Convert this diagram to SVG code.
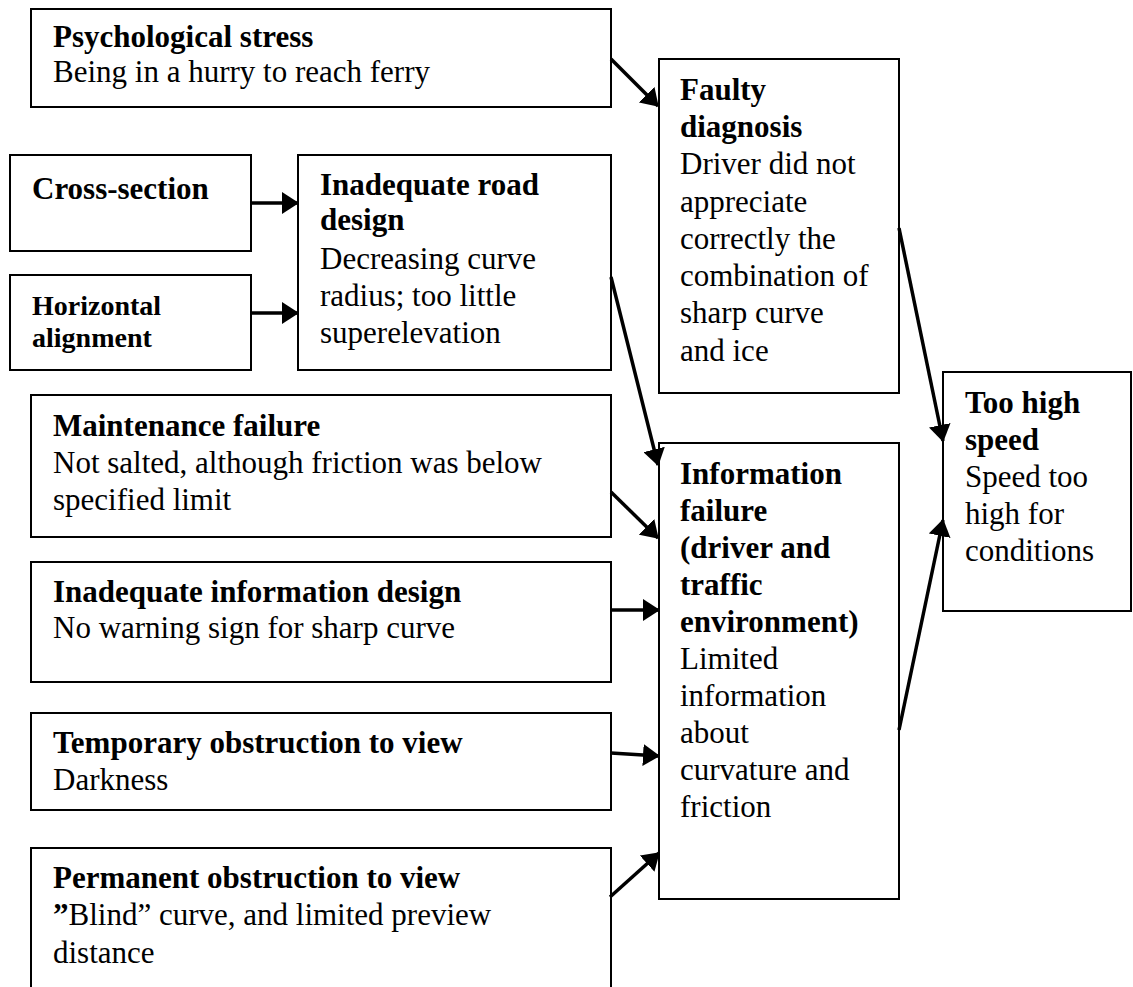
<svg xmlns="http://www.w3.org/2000/svg" width="1133" height="987" viewBox="0 0 1133 987">
  <style>
    .box { fill: #fff; stroke: #000; stroke-width: 2; }
    text { font-family: "Liberation Serif", "Times New Roman", serif; font-size: 31px; fill: #000; }
    .b { font-weight: bold; }
    .sm { font-size: 28px; }
    .arrow { stroke: #000; stroke-width: 3.5; fill: none; marker-end: url(#head); }
  </style>
  <defs>
    <marker id="head" markerUnits="userSpaceOnUse" markerWidth="17" markerHeight="22" refX="16" refY="11" orient="auto">
      <path d="M0,0 L17,11 L0,22 z" fill="#000"/>
    </marker>
  </defs>
  <rect width="1133" height="987" fill="#fff"/>

  <g id="psychological-stress">
    <rect class="box" x="31" y="9" width="580" height="98"/>
    <text x="53" y="47" class="b">Psychological stress</text>
    <text x="53" y="82">Being in a hurry to reach ferry</text>
  </g>

  <g id="cross-section">
    <rect class="box" x="10" y="155" width="241" height="96"/>
    <text x="32" y="199" class="b">Cross-section</text>
  </g>

  <g id="horizontal-alignment">
    <rect class="box" x="10" y="275" width="241" height="95"/>
    <text x="32" y="315" class="b sm">Horizontal</text>
    <text x="32" y="347" class="b sm">alignment</text>
  </g>

  <g id="road-design">
    <rect class="box" x="298" y="155" width="313" height="215"/>
    <text x="320" y="195" class="b">Inadequate road</text>
    <text x="320" y="230" class="b">design</text>
    <text x="320" y="269">Decreasing curve</text>
    <text x="320" y="306">radius; too little</text>
    <text x="320" y="343">superelevation</text>
  </g>

  <g id="maintenance-failure">
    <rect class="box" x="31" y="395" width="580" height="142"/>
    <text x="53" y="436" class="b">Maintenance failure</text>
    <text x="53" y="473">Not salted, although friction was below</text>
    <text x="53" y="510">specified limit</text>
  </g>

  <g id="information-design">
    <rect class="box" x="31" y="562" width="580" height="120"/>
    <text x="53" y="602" class="b">Inadequate information design</text>
    <text x="53" y="638">No warning sign for sharp curve</text>
  </g>

  <g id="temporary-obstruction">
    <rect class="box" x="31" y="713" width="580" height="97"/>
    <text x="53" y="753" class="b">Temporary obstruction to view</text>
    <text x="53" y="790">Darkness</text>
  </g>

  <g id="permanent-obstruction">
    <rect class="box" x="31" y="848" width="580" height="160"/>
    <text x="53" y="888" class="b">Permanent obstruction to view</text>
    <text x="53" y="925"><tspan class="b">”</tspan>Blind” curve, and limited preview</text>
    <text x="53" y="963">distance</text>
  </g>

  <g id="faulty-diagnosis">
    <rect class="box" x="659" y="59" width="240" height="334"/>
    <text x="680" y="100" class="b">Faulty</text>
    <text x="680" y="137" class="b">diagnosis</text>
    <text x="680" y="174">Driver did not</text>
    <text x="680" y="212">appreciate</text>
    <text x="680" y="249">correctly the</text>
    <text x="680" y="286">combination of</text>
    <text x="680" y="323">sharp curve</text>
    <text x="680" y="361">and ice</text>
  </g>

  <g id="information-failure">
    <rect class="box" x="659" y="443" width="240" height="456"/>
    <text x="680" y="484" class="b">Information</text>
    <text x="680" y="521" class="b">failure</text>
    <text x="680" y="558" class="b">(driver and</text>
    <text x="680" y="595" class="b">traffic</text>
    <text x="680" y="632" class="b">environment)</text>
    <text x="680" y="669">Limited</text>
    <text x="680" y="706">information</text>
    <text x="680" y="743">about</text>
    <text x="680" y="780">curvature and</text>
    <text x="680" y="817">friction</text>
  </g>

  <g id="too-high-speed">
    <rect class="box" x="943" y="372" width="188" height="239"/>
    <text x="965" y="413" class="b">Too high</text>
    <text x="965" y="450" class="b">speed</text>
    <text x="965" y="487">Speed too</text>
    <text x="965" y="524">high for</text>
    <text x="965" y="561">conditions</text>
  </g>

  <g id="connectors">
    <line class="arrow" x1="611" y1="59" x2="658" y2="106"/>
    <line class="arrow" x1="251" y1="203" x2="298" y2="203"/>
    <line class="arrow" x1="251" y1="313" x2="298" y2="313"/>
    <line class="arrow" x1="611" y1="277" x2="658" y2="465"/>
    <line class="arrow" x1="611" y1="492" x2="658" y2="538"/>
    <line class="arrow" x1="610" y1="610" x2="659" y2="610"/>
    <line class="arrow" x1="611" y1="753" x2="659" y2="756"/>
    <line class="arrow" x1="610" y1="897" x2="659" y2="853"/>
    <line class="arrow" x1="899" y1="228" x2="943" y2="441"/>
    <line class="arrow" x1="899" y1="730" x2="943" y2="520"/>
  </g>
</svg>
